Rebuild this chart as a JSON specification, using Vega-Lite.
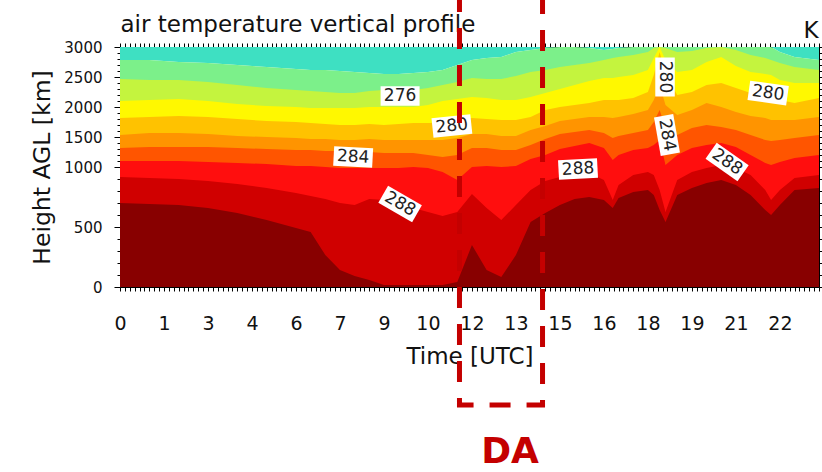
{
  "$schema": "https://vega.github.io/schema/vega-lite/v6.json",
  "width": 699,
  "height": 240,
  "autosize": "none",
  "padding": {"left": 120, "top": 47, "right": 3, "bottom": 185},
  "background": "white",
  "config": {"view": {"stroke": null}, "font": "DejaVu Sans"},
  "data": {"values": [
    {"t": 0, "h274": 2783, "h276": 2467, "h278": 2100, "h280": 1817, "h282": 1533, "h284": 1317, "h286": 1100, "h288": 917, "h290": 700},
    {"t": 60, "h274": 2783, "h276": 2450, "h278": 2117, "h280": 1833, "h282": 1567, "h284": 1333, "h286": 1100, "h288": 908, "h290": 692},
    {"t": 120, "h274": 2750, "h276": 2450, "h278": 2133, "h280": 1850, "h282": 1567, "h284": 1333, "h286": 1100, "h288": 900, "h290": 683},
    {"t": 180, "h274": 2733, "h276": 2417, "h278": 2100, "h280": 1833, "h282": 1550, "h284": 1333, "h286": 1083, "h288": 883, "h290": 658},
    {"t": 240, "h274": 2700, "h276": 2367, "h278": 2050, "h280": 1800, "h282": 1517, "h284": 1317, "h286": 1067, "h288": 858, "h290": 617},
    {"t": 300, "h274": 2667, "h276": 2317, "h278": 2017, "h280": 1767, "h282": 1500, "h284": 1300, "h286": 1050, "h288": 825, "h290": 558},
    {"t": 360, "h274": 2633, "h276": 2283, "h278": 2000, "h280": 1750, "h282": 1483, "h284": 1283, "h286": 1017, "h288": 783, "h290": 492},
    {"t": 390, "h274": 2617, "h276": 2267, "h278": 1983, "h280": 1733, "h282": 1467, "h284": 1283, "h286": 1017, "h288": 758, "h290": 458},
    {"t": 420, "h274": 2617, "h276": 2250, "h278": 1983, "h280": 1717, "h282": 1467, "h284": 1267, "h286": 1000, "h288": 733, "h290": 267},
    {"t": 450, "h274": 2600, "h276": 2233, "h278": 1983, "h280": 1700, "h282": 1450, "h284": 1267, "h286": 992, "h288": 700, "h290": 142},
    {"t": 480, "h274": 2583, "h276": 2233, "h278": 1983, "h280": 1700, "h282": 1450, "h284": 1250, "h286": 992, "h288": 683, "h290": 92},
    {"t": 510, "h274": 2567, "h276": 2267, "h278": 2000, "h280": 1717, "h282": 1467, "h284": 1250, "h286": 992, "h288": 733, "h290": 58},
    {"t": 540, "h274": 2550, "h276": 2283, "h278": 2000, "h280": 1700, "h282": 1450, "h284": 1233, "h286": 992, "h288": 725, "h290": 17},
    {"t": 570, "h274": 2550, "h276": 2283, "h278": 2000, "h280": 1717, "h282": 1450, "h284": 1233, "h286": 992, "h288": 700, "h290": 17},
    {"t": 600, "h274": 2567, "h276": 2283, "h278": 2000, "h280": 1733, "h282": 1450, "h284": 1233, "h286": 1000, "h288": 658, "h290": 17},
    {"t": 630, "h274": 2583, "h276": 2317, "h278": 2033, "h280": 1733, "h282": 1450, "h284": 1200, "h286": 992, "h288": 625, "h290": 17},
    {"t": 660, "h274": 2617, "h276": 2367, "h278": 2100, "h280": 1733, "h282": 1450, "h284": 1167, "h286": 958, "h288": 592, "h290": 17},
    {"t": 690, "h274": 2700, "h276": 2417, "h278": 2133, "h280": 1767, "h282": 1483, "h284": 1200, "h286": 892, "h288": 625, "h290": 42},
    {"t": 720, "h274": 2783, "h276": 2483, "h278": 2167, "h280": 1817, "h282": 1550, "h284": 1317, "h286": 1000, "h288": 775, "h290": 350},
    {"t": 750, "h274": 2817, "h276": 2467, "h278": 2150, "h280": 1800, "h282": 1550, "h284": 1317, "h286": 1017, "h288": 658, "h290": 142},
    {"t": 780, "h274": 2833, "h276": 2467, "h278": 2117, "h280": 1783, "h282": 1517, "h284": 1283, "h286": 1000, "h288": 558, "h290": 83},
    {"t": 810, "h274": 2917, "h276": 2517, "h278": 2117, "h280": 1783, "h282": 1517, "h284": 1283, "h286": 1017, "h288": 683, "h290": 267},
    {"t": 840, "h274": 2950, "h276": 2583, "h278": 2167, "h280": 1833, "h282": 1617, "h284": 1367, "h286": 1133, "h288": 808, "h290": 542},
    {"t": 870, "h274": 2983, "h276": 2617, "h278": 2233, "h280": 1950, "h282": 1683, "h284": 1467, "h286": 1200, "h288": 883, "h290": 617},
    {"t": 900, "h274": 3000, "h276": 2667, "h278": 2300, "h280": 2000, "h282": 1767, "h284": 1550, "h286": 1300, "h288": 917, "h290": 683},
    {"t": 930, "h274": 3000, "h276": 2700, "h278": 2367, "h280": 2033, "h282": 1800, "h284": 1583, "h286": 1350, "h288": 933, "h290": 733},
    {"t": 960, "h274": 2983, "h276": 2733, "h278": 2433, "h280": 2067, "h282": 1833, "h284": 1617, "h286": 1400, "h288": 950, "h290": 750},
    {"t": 990, "h274": 2950, "h276": 2783, "h278": 2483, "h280": 2117, "h282": 1833, "h284": 1567, "h286": 1317, "h288": 892, "h290": 725},
    {"t": 1008, "h274": 2967, "h276": 2817, "h278": 2483, "h280": 2117, "h282": 1817, "h284": 1483, "h286": 1117, "h288": 725, "h290": 658},
    {"t": 1020, "h274": 2983, "h276": 2833, "h278": 2500, "h280": 2117, "h282": 1833, "h284": 1517, "h286": 1200, "h288": 850, "h290": 742},
    {"t": 1050, "h274": 3000, "h276": 2867, "h278": 2533, "h280": 2150, "h282": 1883, "h284": 1567, "h286": 1283, "h288": 933, "h290": 792},
    {"t": 1080, "h274": 3000, "h276": 2917, "h278": 2617, "h280": 2250, "h282": 1950, "h284": 1617, "h286": 1317, "h288": 958, "h290": 808},
    {"t": 1092, "h274": 3000, "h276": 2983, "h278": 2817, "h280": 2533, "h282": 2117, "h284": 1750, "h286": 1367, "h288": 933, "h290": 767},
    {"t": 1104, "h274": 3000, "h276": 3000, "h278": 3000, "h280": 2917, "h282": 2367, "h284": 1950, "h286": 1450, "h288": 808, "h290": 642},
    {"t": 1116, "h274": 3000, "h276": 2983, "h278": 2783, "h280": 2533, "h282": 2033, "h284": 1650, "h286": 1033, "h288": 625, "h290": 542},
    {"t": 1140, "h274": 3000, "h276": 2917, "h278": 2583, "h280": 2200, "h282": 1867, "h284": 1533, "h286": 1200, "h288": 892, "h290": 767},
    {"t": 1170, "h274": 3000, "h276": 2933, "h278": 2617, "h280": 2250, "h282": 1950, "h284": 1650, "h286": 1317, "h288": 958, "h290": 825},
    {"t": 1200, "h274": 3000, "h276": 2983, "h278": 2750, "h280": 2367, "h282": 2067, "h284": 1700, "h286": 1367, "h288": 992, "h290": 867},
    {"t": 1230, "h274": 3000, "h276": 3000, "h278": 2833, "h280": 2400, "h282": 2000, "h284": 1667, "h286": 1400, "h288": 1033, "h290": 892},
    {"t": 1260, "h274": 3000, "h276": 2950, "h278": 2683, "h280": 2317, "h282": 1917, "h284": 1617, "h286": 1333, "h288": 992, "h290": 850},
    {"t": 1290, "h274": 3000, "h276": 2867, "h278": 2583, "h280": 2233, "h282": 1850, "h284": 1533, "h286": 1200, "h288": 933, "h290": 767},
    {"t": 1320, "h274": 3000, "h276": 2817, "h278": 2550, "h280": 2200, "h282": 1817, "h284": 1450, "h286": 1067, "h288": 808, "h290": 642},
    {"t": 1332, "h274": 3000, "h276": 2783, "h278": 2533, "h280": 2167, "h282": 1783, "h284": 1433, "h286": 1033, "h288": 725, "h290": 600},
    {"t": 1350, "h274": 2917, "h276": 2733, "h278": 2450, "h280": 2117, "h282": 1783, "h284": 1450, "h286": 1083, "h288": 808, "h290": 683},
    {"t": 1380, "h274": 2833, "h276": 2667, "h278": 2400, "h280": 2067, "h282": 1783, "h284": 1483, "h286": 1150, "h288": 908, "h290": 808},
    {"t": 1430, "h274": 2783, "h276": 2617, "h278": 2400, "h280": 2150, "h282": 1833, "h284": 1533, "h286": 1200, "h288": 933, "h290": 825}
  ]},
  "resolve": {"axis": {"x": "independent", "y": "independent"}},
  "layer": [
    {
      "mark": {"type": "area", "color": "#3EE0C2"},
      "encoding": {
        "x": {"field": "t", "type": "quantitative",
          "scale": {"domain": [0, 1430], "nice": false, "zero": false},
          "axis": {"orient": "bottom", "tickCount": 143,
            "labelExpr": "datum.value % 90 === 0 ? '' + floor(datum.value / 60) : ''",
            "labelOverlap": false, "labelFlush": false, "labelBound": false,
            "labelFont": "DejaVu Sans", "labelFontSize": 19, "labelColor": "#111111", "labelPadding": 23,
            "tickSize": 4, "tickColor": "black", "domainColor": "black", "grid": false,
            "title": "Time [UTC]", "titleFont": "DejaVu Sans", "titleFontSize": 23, "titleFontWeight": "normal",
            "titleColor": "#111111", "titleX": 349.5, "titleY": 76, "titleAlign": "center", "titleBaseline": "alphabetic"}},
        "y": {"field": "h274", "type": "quantitative",
          "scale": {"domain": [0, 1000, 3000], "range": [240, 120, 0], "nice": false, "zero": false},
          "axis": {"orient": "left",
            "values": [0,100,200,300,400,500,600,700,800,900,1000,1100,1200,1300,1400,1500,1600,1700,1800,1900,2000,2100,2200,2300,2400,2500,2600,2700,2800,2900,3000],
            "format": "d",
            "labelExpr": "datum.value % 500 === 0 ? datum.label : ''",
            "labelOverlap": false, "labelFlush": false, "labelBound": false,
            "labelFont": "DejaVu Sans", "labelFontSize": 15, "labelColor": "#111111", "labelPadding": 12,
            "tickSize": {"condition": {"test": "datum.value % 500 === 0", "value": 6}, "value": 3},
            "tickColor": "black", "domainColor": "black", "grid": false,
            "title": "Height AGL [km]", "titleFont": "DejaVu Sans", "titleFontSize": 23.5, "titleFontWeight": "normal",
            "titleColor": "#111111", "titleAngle": 270, "titleX": -71, "titleY": 120, "titleAlign": "center", "titleBaseline": "alphabetic"}},
        "y2": {"datum": 3000}
      }
    },
    {
      "mark": {"type": "area", "color": "#7CF08A"},
      "encoding": {
        "x": {"field": "t", "type": "quantitative",
          "axis": {"orient": "top", "tickCount": 143, "labels": false, "tickSize": 4, "tickColor": "black",
            "domainColor": "black", "grid": false,
            "title": "air temperature vertical profile", "titleFont": "DejaVu Sans", "titleFontSize": 23,
            "titleFontWeight": "normal", "titleColor": "#111111", "titleAngle": 0, "titleX": 0, "titleY": -16,
            "titleAlign": "left", "titleBaseline": "alphabetic"}},
        "y": {"field": "h274", "type": "quantitative",
          "axis": {"orient": "right",
            "values": [0,100,200,300,400,500,600,700,800,900,1000,1100,1200,1300,1400,1500,1600,1700,1800,1900,2000,2100,2200,2300,2400,2500,2600,2700,2800,2900,3000],
            "labels": false, "tickSize": 3, "tickColor": "black", "domainColor": "black", "grid": false,
            "title": "K", "titleFont": "DejaVu Sans", "titleFontSize": 23, "titleFontWeight": "normal",
            "titleColor": "#111111", "titleAngle": 0, "titleX": -1, "titleY": -10, "titleAlign": "right", "titleBaseline": "alphabetic"}},
        "y2": {"datum": 0}
      }
    },
    {"mark": {"type": "area", "color": "#C4F43E"}, "encoding": {"x": {"field": "t", "type": "quantitative", "axis": null}, "y": {"field": "h276", "type": "quantitative", "axis": null}, "y2": {"datum": 0}}},
    {"mark": {"type": "area", "color": "#FFF800"}, "encoding": {"x": {"field": "t", "type": "quantitative", "axis": null}, "y": {"field": "h278", "type": "quantitative", "axis": null}, "y2": {"datum": 0}}},
    {"mark": {"type": "area", "color": "#FFC200"}, "encoding": {"x": {"field": "t", "type": "quantitative", "axis": null}, "y": {"field": "h280", "type": "quantitative", "axis": null}, "y2": {"datum": 0}}},
    {"mark": {"type": "area", "color": "#FF9400"}, "encoding": {"x": {"field": "t", "type": "quantitative", "axis": null}, "y": {"field": "h282", "type": "quantitative", "axis": null}, "y2": {"datum": 0}}},
    {"mark": {"type": "area", "color": "#FF5500"}, "encoding": {"x": {"field": "t", "type": "quantitative", "axis": null}, "y": {"field": "h284", "type": "quantitative", "axis": null}, "y2": {"datum": 0}}},
    {"mark": {"type": "area", "color": "#FF0E0E"}, "encoding": {"x": {"field": "t", "type": "quantitative", "axis": null}, "y": {"field": "h286", "type": "quantitative", "axis": null}, "y2": {"datum": 0}}},
    {"mark": {"type": "area", "color": "#D00000"}, "encoding": {"x": {"field": "t", "type": "quantitative", "axis": null}, "y": {"field": "h288", "type": "quantitative", "axis": null}, "y2": {"datum": 0}}},
    {"mark": {"type": "area", "color": "#880000"}, "encoding": {"x": {"field": "t", "type": "quantitative", "axis": null}, "y": {"field": "h290", "type": "quantitative", "axis": null}, "y2": {"datum": 0}}},
    {
      "data": {"name": "labels", "values": [
        {"v": "276", "t": 573, "h": 2183, "angle": 0},
        {"v": "280", "t": 679, "h": 1683, "angle": -6},
        {"v": "284", "t": 477, "h": 1167, "angle": 3},
        {"v": "288", "t": 573, "h": 692, "angle": 30},
        {"v": "288", "t": 937, "h": 983, "angle": -3},
        {"v": "280", "t": 1115, "h": 2500, "angle": 90},
        {"v": "284", "t": 1119, "h": 1533, "angle": 80},
        {"v": "288", "t": 1242, "h": 1083, "angle": 35},
        {"v": "280", "t": 1326, "h": 2233, "angle": 8}
      ]},
      "layer": [
        {"mark": {"type": "point", "shape": "M-1,-0.5L1,-0.5L1,0.5L-1,0.5Z", "filled": true, "color": "white", "opacity": 1, "size": 1521},
         "encoding": {"x": {"field": "t", "type": "quantitative", "axis": null}, "y": {"field": "h", "type": "quantitative", "axis": null},
           "angle": {"field": "angle", "type": "quantitative", "scale": null}}},
        {"mark": {"type": "text", "font": "DejaVu Sans", "fontSize": 17, "color": "#222222", "align": "center", "baseline": "middle"},
         "encoding": {"x": {"field": "t", "type": "quantitative", "axis": null}, "y": {"field": "h", "type": "quantitative", "axis": null},
           "angle": {"field": "angle", "type": "quantitative", "scale": null}, "text": {"field": "v"}}}
      ]
    },
    {
      "data": {"name": "window", "values": [{"name": "DA", "start": 694.5, "end": 864.4, "mid": 798}]},
      "layer": [
        {"mark": {"type": "rect", "filled": false, "stroke": "#C40000", "strokeWidth": 5, "strokeDash": [21, 16], "strokeDashOffset": 30, "clip": false},
         "encoding": {"x": {"field": "start", "type": "quantitative", "axis": null}, "x2": {"field": "end"},
           "y": {"datum": 3867, "axis": null}, "y2": {"datum": -983}}},
        {"mark": {"type": "text", "font": "DejaVu Sans", "fontSize": 36, "fontWeight": "bold", "color": "#C40000", "align": "center", "baseline": "alphabetic"},
         "encoding": {"x": {"field": "mid", "type": "quantitative", "axis": null}, "y": {"datum": -1467, "axis": null}, "text": {"field": "name"}}}
      ]
    }
  ]
}
